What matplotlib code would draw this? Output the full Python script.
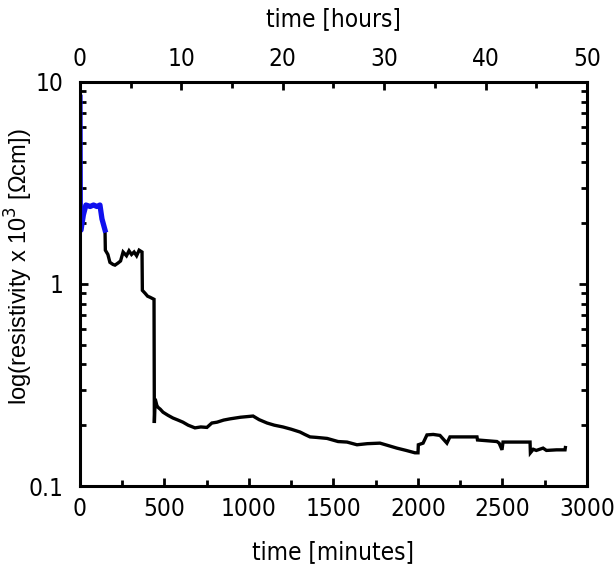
import matplotlib
matplotlib.use("Agg")
import matplotlib.pyplot as plt
from matplotlib.ticker import MultipleLocator, LogLocator, FixedLocator, NullFormatter

# Blue (initial) segment: time [min], resistivity x1e3 [Ohm cm]
blue_t = [0, 2, 6, 20, 35, 60, 80, 100, 118, 130, 148]
blue_v = [8.4, 1.85, 1.85, 2.2, 2.46, 2.42, 2.46, 2.42, 2.46, 2.1, 1.85]

# Black (remaining) segment
black_t = [148, 150, 165, 177, 195, 207, 225, 240, 255, 275, 290, 305, 320, 335, 350, 367,
           369, 385, 400, 414, 438, 440, 445, 455, 462, 475, 491, 520, 550, 580, 609, 640,
           680, 715, 751, 780, 811, 850, 888, 950, 1000, 1024, 1060, 1107, 1150, 1201, 1250,
           1302, 1330, 1361, 1400, 1462, 1527, 1580, 1639, 1700, 1775, 1830, 1875, 1930, 1982,
           2000, 2002, 2030, 2053, 2090, 2130, 2171, 2189, 2260, 2349, 2352, 2467, 2480,
           2497, 2503, 2580, 2663, 2665, 2682, 2700, 2740, 2760, 2820, 2870, 2872]
black_v = [1.85, 1.47, 1.4, 1.28, 1.25, 1.24, 1.27, 1.3, 1.44, 1.38, 1.46, 1.40, 1.44, 1.38, 1.47, 1.44,
           0.93, 0.9, 0.87, 0.86, 0.84, 0.205, 0.27, 0.25, 0.245, 0.24, 0.232, 0.224, 0.217, 0.212, 0.207, 0.2,
           0.194, 0.196, 0.195, 0.205, 0.207, 0.212, 0.215, 0.219, 0.221, 0.222, 0.213, 0.205, 0.2, 0.196, 0.191,
           0.185, 0.18, 0.175, 0.174, 0.172, 0.166, 0.165, 0.16, 0.162, 0.163, 0.158, 0.154, 0.15, 0.146,
           0.146, 0.16, 0.163, 0.179, 0.18, 0.178, 0.163, 0.175, 0.175, 0.175, 0.169, 0.166, 0.163,
           0.151, 0.165, 0.165, 0.165, 0.146, 0.152, 0.15, 0.154, 0.15, 0.151, 0.151, 0.155]

xticks_min = [0, 500, 1000, 1500, 2000, 2500, 3000]
xticks_hr = [0, 10, 20, 30, 40, 50]
yticks = [0.1, 1, 10]
ytick_labels = ["0.1", "1", "10"]

regular = ["Liberation Sans", "DejaVu Sans"]
tick_font = dict(family=["DejaVu Sans"], stretch="condensed", size=17.5)

fig = plt.figure(figsize=(6.16, 5.64), dpi=100)
ax = fig.add_axes([80/616, 1-486/564, (587-80)/616, (486-82)/564])

ax.plot(black_t, black_v, color="black", lw=2.4, solid_joinstyle="miter")
ax.plot(blue_t, blue_v, color="#1010ee", lw=3.8)

ax.set_yscale("log")
ax.set_xlim(0, 3000)
ax.set_ylim(0.1, 10)

ax.xaxis.set_major_locator(FixedLocator(xticks_min))
ax.xaxis.set_minor_locator(MultipleLocator(250))
ax.set_yticks(yticks)
ax.set_yticklabels(ytick_labels)
ax.yaxis.set_minor_locator(LogLocator(base=10, subs=range(2, 10)))
ax.yaxis.set_minor_formatter(NullFormatter())

for lab in ax.get_xticklabels() + ax.get_yticklabels():
    lab.set_fontproperties(tick_font)

ax.tick_params(which="both", direction="in", top=False, right=True, width=2)
ax.tick_params(axis="x", which="major", length=6, pad=8)
ax.tick_params(axis="y", which="major", length=6, pad=12)
ax.tick_params(which="minor", length=4)
for s in ax.spines.values():
    s.set_linewidth(2.2)

sec = ax.secondary_xaxis("top", functions=(lambda m: m/60.0, lambda h: h*60.0))
sec.xaxis.set_major_locator(FixedLocator(xticks_hr))
sec.xaxis.set_minor_locator(MultipleLocator(5))
sec.tick_params(which="both", direction="in", width=2)
sec.tick_params(which="major", length=6, pad=8)
sec.tick_params(which="minor", length=4)
for lab in sec.get_xticklabels():
    lab.set_fontproperties(tick_font)
sec.set_xlabel("time [hours]", fontproperties=tick_font, labelpad=15)

ax.set_xlabel("time [minutes]", fontproperties=tick_font, labelpad=14)
ax.set_ylabel("log(resistivity x 10$^3$ [\u03a9cm])", family=regular, fontsize=17)
ax.yaxis.set_label_coords(-0.088, 0.543)

fig.savefig("out.png", dpi=100)
